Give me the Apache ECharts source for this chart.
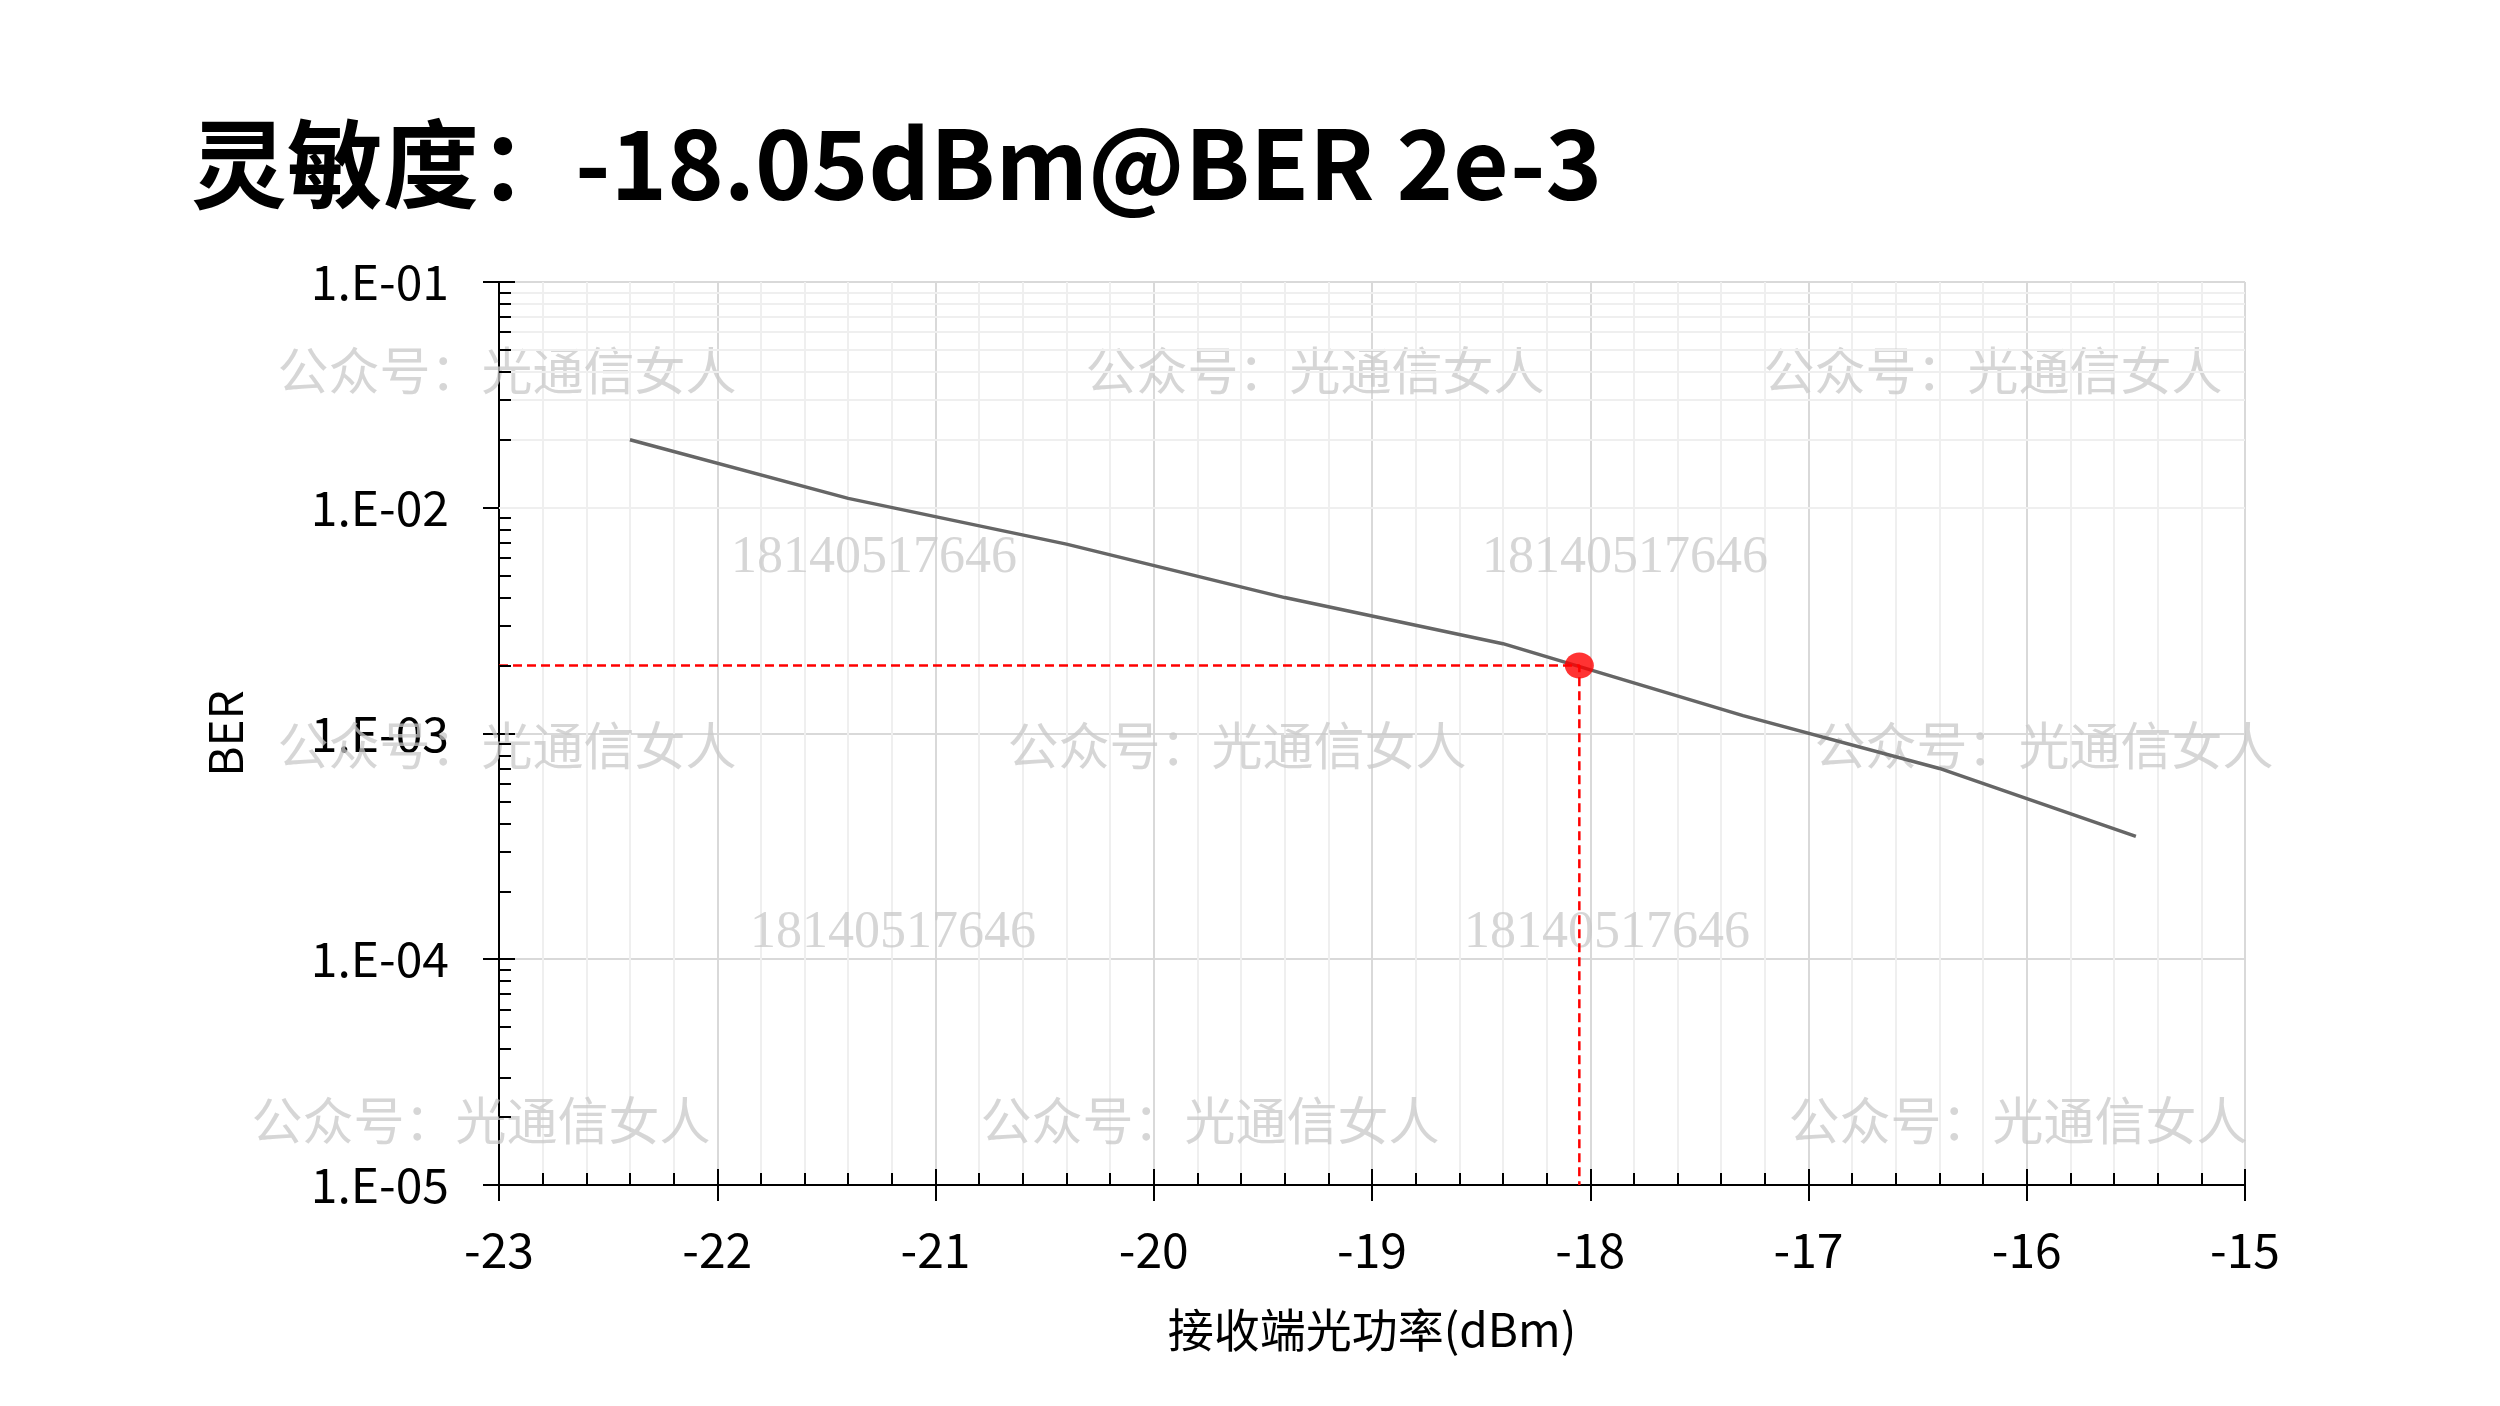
<!DOCTYPE html>
<html><head><meta charset="utf-8">
<script src="https://cdn.jsdelivr.net/npm/echarts@6/dist/echarts.min.js"></script>
<style>html,body{margin:0;padding:0;background:#fff}#c{width:2500px;height:1406px}</style>
</head><body><div id="c"></div>
<script>
// ---- data ----
const titleText = '灵敏度：-18.05dBm@BER 2e-3';
const xAxisName = '接收端光功率(dBm)';
const yAxisName = 'BER';
const powerDbm = [-22.4, -21.4, -20.4, -19.4, -18.4, -17.3, -16.4, -15.5];
const berValues = [2.0e-2, 1.1e-2, 6.9e-3, 4.0e-3, 2.5e-3, 1.2e-3, 7.0e-4, 3.5e-4];
const sensPower = -18.05;
const sensBer = 2e-3;
const xMin = -23, xMax = -15, xStep = 1;
const yTickValues = [1e-5, 1e-4, 1e-3, 1e-2, 1e-1];
const yTickLabels = ['1.E-05', '1.E-04', '1.E-03', '1.E-02', '1.E-01'];
const yMinorMultipliers = [2, 3, 4, 5, 6, 7, 8, 9];
const watermarkText = '公众号：光通信女人';
const watermarkPhone = '18140517646';

// ---- derived ----
const yMin = yTickValues[0], yMax = yTickValues[yTickValues.length - 1];
const minorValues = [];
for (let i = 0; i < yTickValues.length - 1; i++) {
  yMinorMultipliers.forEach(m => minorValues.push(yTickValues[i] * m));
}
const curve = powerDbm.map((x, i) => [x, berValues[i]]);
const FONT = '"Noto Sans CJK SC", "Noto Sans", sans-serif';
const minorTickLenX = 0.055; // in x units
function yLabel(v) {
  const idx = yTickValues.findIndex(t => Math.abs(Math.log10(t) - Math.log10(v)) < 1e-6);
  return idx >= 0 ? yTickLabels[idx] : '';
}

const wmStyle = { fill: 'rgba(200,200,200,0.75)', font: '51px "Noto Sans CJK SC", sans-serif', textAlign: 'center', textVerticalAlign: 'middle' };
const wmNumStyle = { fill: 'rgba(200,200,200,0.75)', font: '52px "Liberation Serif", serif', textAlign: 'center', textVerticalAlign: 'middle' };
const wmPos = [[507,371],[1315,371],[1993,371],[507,746],[1237,746],[2044,746],[481,1121],[1210,1121],[2018,1121]];
const wmNumPos = [[874,558],[1625,558],[893,933],[1607,933]];
const graphics = [];
wmPos.forEach(p => graphics.push({ type: 'text', x: p[0], y: p[1], z: 1, silent: true, style: Object.assign({ text: watermarkText }, wmStyle) }));
wmNumPos.forEach(p => graphics.push({ type: 'text', x: p[0], y: p[1], z: 1, silent: true, style: Object.assign({ text: watermarkPhone }, wmNumStyle) }));

const axisBlack = { color: '#000', width: 2 };
const chart = echarts.init(document.getElementById('c'), null, { renderer: 'canvas' });
chart.setOption({
  animation: false,
  backgroundColor: '#fff',
  title: {
    text: titleText, left: 186, top: 104,
    textStyle: { fontSize: 96, fontWeight: 'bold', color: '#000', fontFamily: FONT, lineHeight: 110 }
  },
  grid: { left: 499, right: 255, top: 282, bottom: 221, containLabel: false },
  graphic: graphics,
  xAxis: [{
    type: 'value', min: xMin, max: xMax, interval: xStep, position: 'bottom',
    axisLine: { show: true, lineStyle: axisBlack },
    axisTick: { show: true, inside: false, length: 16, lineStyle: axisBlack },
    axisLabel: { fontSize: 48, color: '#000', fontFamily: FONT, margin: 41 },
    splitLine: { show: true, lineStyle: { color: '#d9d9d9', width: 2 } },
    name: xAxisName, nameLocation: 'middle', nameGap: 122,
    nameTextStyle: { fontSize: 46, color: '#000', fontFamily: FONT }
  }, {
    type: 'value', min: xMin, max: xMax, interval: xStep, position: 'bottom', offset: 0,
    axisLine: { show: true, lineStyle: axisBlack },
    axisTick: { show: true, inside: true, length: 16, lineStyle: axisBlack },
    minorTick: { show: true, splitNumber: 5, length: 12, lineStyle: axisBlack },
    minorSplitLine: { show: true, lineStyle: { color: '#efefef', width: 2 } },
    axisLabel: { show: false },
    splitLine: { show: false }
  }],
  yAxis: [{
    type: 'log', logBase: 10, min: yMin, max: yMax, position: 'left',
    axisLine: { show: true, lineStyle: axisBlack },
    axisTick: { show: true, inside: false, length: 16, lineStyle: axisBlack },
    axisLabel: { fontSize: 48, color: '#000', fontFamily: FONT, margin: 50, formatter: yLabel },
    splitLine: { show: true, lineStyle: { color: '#d9d9d9', width: 2 } },
    name: yAxisName, nameLocation: 'middle', nameRotate: 90, nameGap: 250,
    nameTextStyle: { fontSize: 46, color: '#000', fontFamily: FONT }
  }, {
    type: 'log', logBase: 10, min: yMin, max: yMax, position: 'left', offset: 0,
    axisLine: { show: true, lineStyle: axisBlack },
    axisTick: { show: true, inside: true, length: 16, lineStyle: axisBlack },
    axisLabel: { show: false },
    splitLine: { show: false }
  }],
  series: [
    {
      name: 'minorGrid', type: 'line', data: [], silent: true, z: 1,
      markLine: {
        silent: true, z: 1, symbol: ['none', 'none'], label: { show: false }, animation: false,
        lineStyle: { color: '#efefef', width: 2, type: 'solid' },
        emphasis: { disabled: true },
        data: minorValues.map(v => ({ yAxis: v }))
      }
    },
    {
      name: 'minorTicks', type: 'line', data: [], silent: true, z: 6,
      markLine: {
        silent: true, z: 6, symbol: ['none', 'none'], label: { show: false }, animation: false,
        lineStyle: { color: '#000', width: 2, type: 'solid' },
        emphasis: { disabled: true },
        data: minorValues.map(v => [{ coord: [xMin, v] }, { coord: [xMin + minorTickLenX, v] }])
      }
    },
    {
      name: 'BER', type: 'line', data: curve, showSymbol: false, symbol: 'none', z: 3,
      lineStyle: { color: '#666666', width: 3.5 }
    },
    {
      name: 'guide', type: 'line', z: 4, symbol: 'none', showSymbol: false,
      data: [[xMin, sensBer], [sensPower, sensBer], [sensPower, yMin]],
      lineStyle: { color: '#ff0000', width: 2.5, type: [9, 5] }
    },
    {
      name: 'sens', type: 'scatter', z: 5, data: [[sensPower, sensBer]],
      symbol: 'circle', symbolSize: [29, 26], itemStyle: { color: '#ff0000' }
    }
  ]
});
</script>
</body></html>
